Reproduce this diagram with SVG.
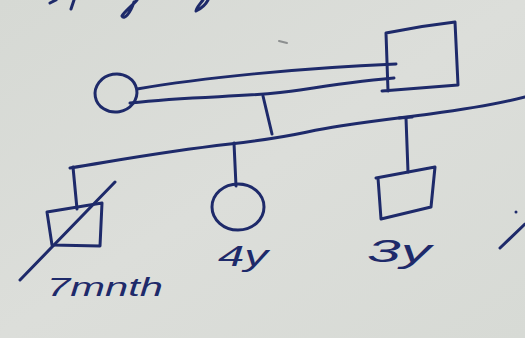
<svg xmlns="http://www.w3.org/2000/svg" width="525" height="338" viewBox="0 0 525 338">
<defs>
<linearGradient id="paper" x1="0" y1="0" x2="1" y2="1">
<stop offset="0" stop-color="#d6d9d4"/>
<stop offset="0.5" stop-color="#dcdeda"/>
<stop offset="1" stop-color="#d7dad5"/>
</linearGradient>
<style>
.ink{fill:none;stroke:#1e2a6a;stroke-width:3;stroke-linecap:round;stroke-linejoin:round}
.lbl{font-family:"Liberation Sans",Arial,sans-serif;font-style:italic;fill:#1e2a6a}
</style>
</defs>
<rect width="525" height="338" fill="url(#paper)"/>
<g id="scribbles">
<path class="ink" d="M50,3 L56,0"/>
<path class="ink" d="M71,9 L74,0"/>
<path class="ink" d="M137,0 C132,6 124,12 122,16 C124,20 130,14 134,2"/>
<path class="ink" d="M208,0 C205,6 198,10 196,11 C196,8 200,4 203,0"/>
<path d="M279,41 L287,43" stroke="#8c8f8f" stroke-width="2" fill="none" stroke-linecap="round"/>
<path class="ink" d="M500,248 L525,224"/>
<circle cx="516" cy="212" r="1.5" fill="#1e2a6a"/>
</g>
<g id="connectors">
<path class="ink" d="M137,89 C200,78 300,68 396,64"/>
<path class="ink" d="M130,103 C200,95 250,98 300,90 S370,80 394,78"/>
<path class="ink" d="M263,96 L272,134"/>
<path class="ink" d="M70,168 C120,160 160,152 230,144 S300,132 340,126 S400,118 430,114 S490,106 525,97"/>
<path class="ink" d="M399,118 L412,117" stroke-width="5"/>
<path class="ink" d="M73,167 L77,209"/>
<path class="ink" d="M234,143 L236,186"/>
<path class="ink" d="M406,118 L408,172"/>
</g>
<g id="mother">
<ellipse class="ink" cx="116" cy="93" rx="21" ry="19" transform="rotate(-10 116 93)"/>
</g>
<g id="father">
<path class="ink" d="M388,91 L386,33 Q420,26 455,22 L458,85 L382,91"/>
</g>
<g id="child1">
<path class="ink" d="M47,212 L102,203 L100,246 L52,245 Z"/>
<path class="ink" d="M115,182 L20,280"/>
<text class="lbl" x="47" y="296" font-size="26" textLength="116" lengthAdjust="spacingAndGlyphs">7mnth</text>
</g>
<g id="child2">
<ellipse class="ink" cx="238" cy="207" rx="26" ry="23"/>
<text class="lbl" x="218" y="266" font-size="30" textLength="50" lengthAdjust="spacingAndGlyphs">4y</text>
</g>
<g id="child3">
<path class="ink" d="M376,178 L435,167 L431,207 L381,219 L378,178"/>
<text class="lbl" x="367" y="262" font-size="32" textLength="64" lengthAdjust="spacingAndGlyphs">3y</text>
</g>
</svg>
